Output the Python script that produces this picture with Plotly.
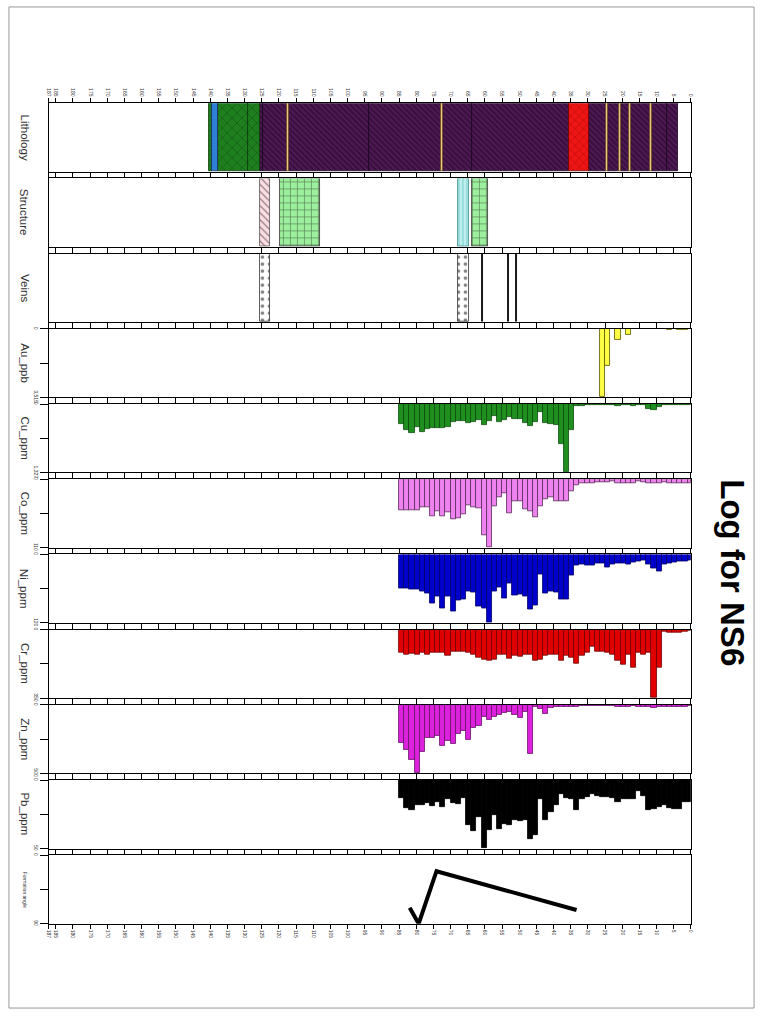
import plotly.graph_objects as go

# ---------------- data ----------------
DEPTH_TICKS = [0, 5, 10, 15, 20, 25, 30, 35, 40, 45, 50, 55, 60, 65, 70, 75, 80, 85, 90, 95,
               100, 105, 110, 115, 120, 125, 130, 135, 140, 145, 150, 155, 160, 165, 170, 175,
               180, 185, 187]
DEPTH_TICK_TEXT = [str(v) for v in DEPTH_TICKS]
DEPTH_MAX = 187

TRACK_NAMES = ["Lithology", "Structure", "Veins", "Au_ppb", "Cu_ppm", "Co_ppm", "Ni_ppm",
               "Cr_ppm", "Zn_ppm", "Pb_ppm", "Formation angle"]

SAMPLE_FROM = [83.5, 82, 80.5, 79, 77.5, 76, 74.5, 73, 71.5, 70, 68.5, 67, 65.5, 64, 62.5, 61,
               59.5, 58, 56.5, 55, 53.5, 52, 50.5, 49, 47.5, 46, 44.5, 43, 41.5, 40, 38.5, 37,
               35.5, 34, 32.5, 31, 29.5, 28, 26.5, 25, 23.5, 22, 20.5, 19, 17.5, 16, 14.5, 13,
               11.5, 10, 8.5, 7, 5.5, 4, 2.5, 1, 0]
SAMPLE_TO = [85, 83.5, 82, 80.5, 79, 77.5, 76, 74.5, 73, 71.5, 70, 68.5, 67, 65.5, 64, 62.5,
             61, 59.5, 58, 56.5, 55, 53.5, 52, 50.5, 49, 47.5, 46, 44.5, 43, 41.5, 40, 38.5,
             37, 35.5, 34, 32.5, 31, 29.5, 28, 26.5, 25, 23.5, 22, 20.5, 19, 17.5, 16, 14.5,
             13, 11.5, 10, 8.5, 7, 5.5, 4, 2.5, 1]

AU_PPB = [0, 0, 0, 0, 0, 0, 0, 0, 0, 0, 0, 0, 0, 0, 0, 0, 0, 0, 0, 0, 0, 0, 0, 0, 0, 0, 0, 0,
          0, 0, 0, 0, 0, 0, 0, 0, 0, 0, 0, 3515, 1898, 0, 576, 0, 316, 0, 0, 0, 20, 0, 0, 0,
          35, 0, 70, 70, 0]
CU_PPM = [385, 513, 564, 449, 545, 481, 468, 468, 468, 449, 353, 333, 321, 365, 353, 301, 404,
          321, 237, 353, 301, 256, 288, 288, 365, 417, 353, 160, 365, 385, 404, 769, 1327, 513,
          45, 32, 19, 19, 19, 19, 13, 19, 45, 19, 19, 32, 19, 19, 96, 115, 58, 26, 19, 19, 19,
          13, 13]
CO_PPM = [49.4, 49.4, 49.4, 49.4, 45.6, 45.6, 59.0, 51.0, 59.0, 53.7, 64.4, 62.8, 56.3, 41.3,
          45.6, 46.7, 89.6, 110, 42.9, 29.5, 23.1, 55.3, 34.9, 36.0, 48.3, 51.0, 60.6, 42.9,
          32.2, 29.5, 36.0, 36.0, 34.9, 18.8, 9.1, 7.0, 5.9, 5.9, 5.4, 4.3, 4.3, 3.8, 7.0, 7.0,
          5.9, 5.9, 3.8, 4.8, 7.0, 7.0, 5.9, 5.4, 7.0, 7.0, 7.0, 7.0, 7.0]
NI_PPM = [60.0, 60.0, 61.1, 61.7, 64.0, 68.6, 85.7, 74.3, 94.3, 73.1, 100, 80, 78.3, 65.7,
          67.4, 91.4, 94.3, 120, 64, 57.1, 77.1, 51.4, 71.4, 69.7, 74.3, 96, 88.6, 34.3, 68.6,
          64.6, 67.4, 78.9, 78.9, 37.1, 20, 17.1, 18.9, 20, 16, 14.9, 22.9, 17.1, 16, 16, 17.1,
          14.3, 11.4, 10.3, 17.1, 24, 29.7, 18.3, 15.4, 14.3, 12.6, 11.4, 10.3]
CR_PPM = [118, 127, 122, 130, 118, 130, 118, 118, 118, 132, 115, 115, 112, 118, 127, 144, 152,
          156, 152, 127, 127, 149, 135, 139, 129, 129, 161, 152, 132, 127, 127, 157, 135, 144,
          174, 132, 118, 88, 110, 115, 118, 127, 156, 178, 127, 194, 118, 127, 118, 350, 194,
          8, 14, 17, 14, 10, 7]
ZN_PPM = [279, 328, 400, 500, 342, 238, 238, 226, 299, 262, 286, 214, 189, 255, 165, 153, 85,
          109, 85, 75, 61, 51, 75, 92, 51, 359, 12, 32, 68, 19, 12, 15, 12, 12, 12, 10, 10, 10,
          10, 10, 10, 10, 15, 15, 15, 10, 15, 15, 17, 19, 15, 17, 17, 15, 12, 12, 10]
PB_PPM = [13.3, 20.5, 22.2, 18.6, 18.1, 16.9, 19.1, 15.7, 19.8, 13.8, 16.9, 17.4, 13.3, 32.6,
          37.4, 27.0, 50, 36.7, 25.8, 36.0, 31.9, 33.1, 29.5, 30.2, 29.5, 43.2, 40.3, 13.8,
          29.5, 23.4, 18.1, 10.1, 13.3, 13.8, 22.2, 13.8, 12.1, 10.1, 11.4, 12.1, 12.1, 13.3,
          16.2, 14.2, 14.2, 13.8, 7.7, 11.4, 22.2, 21.5, 19.8, 18.6, 20.5, 21.0, 21.5, 15.7,
          15.7]

GEOCHEM = [AU_PPB, CU_PPM, CO_PPM, NI_PPM, CR_PPM, ZN_PPM, PB_PPM]
AXIS_MAX = [3515, 1327, 110, 120, 350, 500, 50, 90]
AXIS_MAX_LABEL = ["3,515", "1,327", "110", "120", "350", "500", "50", "90"]

LITH_FROM = [3.8, 7.0, 11.4, 12.0, 17.5, 18.1, 20.4, 21.0, 24.1, 24.7, 29.6, 35.4, 63.7, 72.3,
             72.9, 93.7, 117.2, 117.8, 124.6, 125.5, 129.0, 137.8, 139.5]
LITH_TO = [7.0, 11.4, 12.0, 17.5, 18.1, 20.4, 21.0, 24.1, 24.7, 29.6, 35.4, 63.7, 72.3, 72.9,
           93.7, 117.2, 117.8, 124.6, 125.5, 129.0, 137.8, 139.5, 140.5]
LITH_CODE = ["UM", "UM", "QV", "UM", "QV", "UM", "QV", "UM", "QV", "UM", "GS", "UM", "UM", "QV",
             "UM", "UM", "QV", "UM", "UM", "MF", "MF", "BL", "MF"]

STRUCT_FROM = [59.2, 64.7, 108.2, 122.5]
STRUCT_TO = [63.9, 67.9, 119.7, 125.4]
STRUCT_CODE = ["SH", "FR", "SH", "FO"]

VEIN_FROM = [50.65, 53.05, 60.55, 64.7, 122.5]
VEIN_TO = [50.95, 53.35, 60.85, 67.9, 125.4]
VEIN_CODE = ["LN", "LN", "LN", "DT", "DT"]

FORM_DEPTH = [81.9, 79.3, 74.1, 33.3]
FORM_ANGLE = [69, 90, 21, 72]

# ---------------- styles ----------------
LITH_STYLE = {
    "UM": dict(color="#4e1854", fg="#16041a", shape="\\", size=4, sol=0.4, line="#1a0520"),
    "QV": dict(color="#f2c98a", fg="#7a5a30", shape="", size=5, sol=0.3, line="#6a4a20"),
    "GS": dict(color="#ee1515", fg="#8a0000", shape="x", size=6, sol=0.2, line="#700000"),
    "MF": dict(color="#1f7f1f", fg="#0a3a0a", shape="x", size=7, sol=0.2, line="#0a3a0a"),
    "BL": dict(color="#2f7fd6", fg="#1a4a8a", shape="", size=5, sol=0.2, line="#10305a"),
}
STRUCT_STYLE = {
    "SH": dict(color="#9cef9c", fg="#111111", shape="+", size=7, sol=0.18, line="#333333"),
    "FR": dict(color="#bdf1f1", fg="#3a9a9a", shape="|", size=4, sol=0.25, line="#3a8a8a"),
    "FO": dict(color="#fcdde4", fg="#222222", shape="\\", size=5, sol=0.25, line="#555555"),
}
VEIN_STYLE = {
    "LN": dict(color="#000000", fg="#000000", shape="", size=5, sol=0.3, line="#000000"),
    "DT": dict(color="#ffffff", fg="#000000", shape=".", size=7, sol=0.2, line="#333333"),
}
GEO_COLORS = [("#ffff44", "#555500"), ("#1f8f1f", "#0b4a0b"), ("#ee82ee", "#5a2a5a"),
              ("#0000cc", "#000066"), ("#e00000", "#700000"), ("#dd22dd", "#661166"),
              ("#000000", "#000000")]

W, H = 766, 1019
X0, X1 = 46.3, 693.3
TOP0, PITCH, TH = 102.0, 75.8, 69.0
N = len(TRACK_NAMES)


def axn(i, k):
    return k if i == 0 else f"{k}{i + 1}"


fig = go.Figure()


def add_intervals(i, froms, tos, codes, styles):
    for code, st in styles.items():
        idx = [j for j, c in enumerate(codes) if c == code]
        if not idx:
            continue
        mids = [(froms[j] + tos[j]) / 2 for j in idx]
        wid = [tos[j] - froms[j] for j in idx]
        fig.add_trace(go.Bar(
            x=mids, y=[1] * len(idx), width=wid, base=0,
            xaxis=axn(i, "x"), yaxis=axn(i, "y"),
            marker=dict(color=st["color"],
                        line=dict(color=st["line"], width=0.8),
                        pattern=dict(shape=st["shape"], fgcolor=st["fg"], size=st["size"],
                                     solidity=st["sol"], fillmode="overlay")),
            hoverinfo="skip"))


add_intervals(0, LITH_FROM, LITH_TO, LITH_CODE, LITH_STYLE)
add_intervals(1, STRUCT_FROM, STRUCT_TO, STRUCT_CODE, STRUCT_STYLE)
add_intervals(2, VEIN_FROM, VEIN_TO, VEIN_CODE, VEIN_STYLE)

mids = [(a + b) / 2 for a, b in zip(SAMPLE_FROM, SAMPLE_TO)]
wids = [b - a for a, b in zip(SAMPLE_FROM, SAMPLE_TO)]
for g, vals in enumerate(GEOCHEM):
    i = 3 + g
    fc, lc = GEO_COLORS[g]
    fig.add_trace(go.Bar(x=mids, y=vals, width=wids, base=0,
                         xaxis=axn(i, "x"), yaxis=axn(i, "y"),
                         marker=dict(color=fc, line=dict(color=lc, width=0.8))))

fig.add_trace(go.Scatter(x=FORM_DEPTH, y=FORM_ANGLE, mode="lines",
                         line=dict(color="black", width=4),
                         xaxis=axn(10, "x"), yaxis=axn(10, "y"), cliponaxis=False))

layout = dict(width=W, height=H, margin=dict(l=0, r=0, t=0, b=0),
              paper_bgcolor="white", plot_bgcolor="white", showlegend=False,
              barmode="overlay", bargap=0,
              font=dict(family="Arial, Liberation Sans, sans-serif", color="#222"))

annotations = []
for i in range(N):
    t = TOP0 + PITCH * i
    b = t + TH
    xa = dict(domain=[X0 / W, X1 / W], range=[DEPTH_MAX, 0], anchor=axn(i, "y"),
              tickmode="array", tickvals=DEPTH_TICKS, ticktext=DEPTH_TICK_TEXT,
              ticks="outside", ticklen=4, tickwidth=1, tickcolor="black",
              mirror="allticks", showline=True, linecolor="black", linewidth=1,
              showgrid=False, zeroline=False, showticklabels=(i == 0 or i == N - 1),
              side="top" if i == 0 else "bottom", tickangle=90,
              tickfont=dict(size=5, color="#333"))
    if i > 0:
        xa["matches"] = "x"
    ya = dict(domain=[1 - b / H, 1 - t / H], anchor=axn(i, "x"), showline=True,
              linecolor="black", linewidth=1, mirror=True, showgrid=False, zeroline=False)
    if i < 3:
        ya.update(range=[0, 1], showticklabels=False, ticks="")
    else:
        m = AXIS_MAX[i - 3]
        ya.update(range=[m, 0], tickmode="array", tickvals=[0, m / 2, m],
                  ticktext=["0", "", AXIS_MAX_LABEL[i - 3]], ticks="outside", ticklen=8,
                  tickwidth=1, tickcolor="black", tickangle=90,
                  tickfont=dict(size=5, color="#333"))
    layout["xaxis" if i == 0 else f"xaxis{i + 1}"] = xa
    layout["yaxis" if i == 0 else f"yaxis{i + 1}"] = ya
    annotations.append(dict(x=22 / W, y=1 - (t + TH / 2) / H, xref="paper", yref="paper",
                            xanchor="center", yanchor="middle",
                            text=TRACK_NAMES[i], textangle=90, showarrow=False,
                            font=dict(size=5 if i == N - 1 else 11.5, color="#333",
                                      family="Arial, Liberation Sans, sans-serif")))

annotations.append(dict(x=735 / W, y=1 - 575 / H, xref="paper", yref="paper",
                        xanchor="center", yanchor="middle",
                        text="<b>Log for NS6</b>", textangle=90, showarrow=False,
                        font=dict(size=33, color="black",
                                  family="Arial, Liberation Sans, sans-serif")))
layout["annotations"] = annotations
layout["shapes"] = [dict(type="rect", xref="paper", yref="paper",
                         x0=6 / W, x1=757 / W, y0=1 - 1014 / H, y1=1 - 5 / H,
                         line=dict(color="#999999", width=1))]

fig.update_layout(**layout)
fig.write_html("out.html",
               post_script="document.body.style.margin='0';document.body.style.padding='0';")
